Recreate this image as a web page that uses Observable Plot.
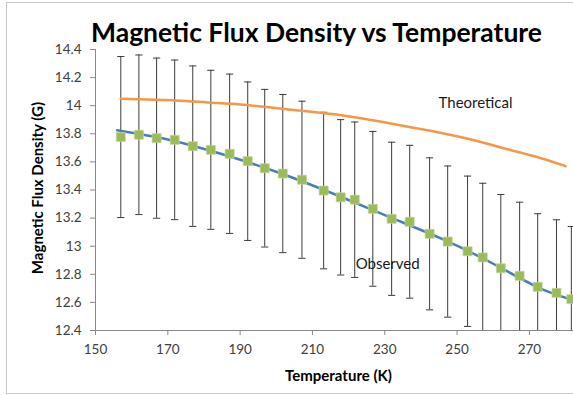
<!DOCTYPE html>
<html><head><meta charset="utf-8">
<script src="https://cdn.jsdelivr.net/npm/d3@7"></script>
<script src="https://cdn.jsdelivr.net/npm/@observablehq/plot@0.6"></script>
<style>
body{margin:0;background:#fff;}
#wrap{position:relative;width:573px;height:395px;overflow:hidden;background:#fff;}
#border{position:absolute;left:6px;top:2px;width:620px;height:390px;border:1px solid #c8c8c8;pointer-events:none;}
</style></head><body><div id="wrap"><div id="border"></div></div>
<script>
// ---- data ----
const temperatures = [157.0, 162.0, 166.9, 171.9, 176.9, 181.9, 187.1, 192.1, 196.8, 201.8, 207.1, 213.1, 217.8, 221.7, 226.7, 231.9, 236.9, 242.4, 247.4, 252.9, 257.1, 262.1, 267.3, 272.3, 277.5, 281.6];
const observed = [13.777, 13.793, 13.769, 13.757, 13.712, 13.686, 13.658, 13.605, 13.555, 13.517, 13.473, 13.396, 13.348, 13.331, 13.266, 13.195, 13.174, 13.088, 13.033, 12.964, 12.920, 12.843, 12.789, 12.711, 12.668, 12.623];
const errors = [0.573, 0.568, 0.570, 0.568, 0.571, 0.566, 0.567, 0.564, 0.561, 0.563, 0.559, 0.557, 0.553, 0.553, 0.551, 0.545, 0.544, 0.541, 0.538, 0.535, 0.528, 0.525, 0.524, 0.520, 0.520, 0.517];
const fitTemps = [156, 170, 183, 200, 218, 232, 246, 260, 273, 283];
const fitValues = [13.825, 13.76, 13.67, 13.53, 13.35, 13.20, 13.05, 12.875, 12.70, 12.61];
const theoTemps = [157, 172, 181, 190, 199, 209, 218, 227, 236, 246, 255, 264, 273, 280];
const theoValues = [14.049, 14.037, 14.023, 14.009, 13.985, 13.959, 13.932, 13.895, 13.852, 13.804, 13.752, 13.690, 13.628, 13.570];
const xTicks = [150, 170, 190, 210, 230, 250, 270];
const yTicks = [12.4, 12.6, 12.8, 13, 13.2, 13.4, 13.6, 13.8, 14, 14.2, 14.4];
const title = "Magnetic Flux Density vs Temperature";
const xLabel = "Temperature (K)";
const yLabel = "Magnetic Flux Density (G)";

// ---- tables ----
const obsRows = temperatures.map((t, i) => ({T: t, v: observed[i], e: errors[i]}));
const fitRows = fitTemps.map((t, i) => ({T: t, v: fitValues[i]}));
const theoRows = theoTemps.map((t, i) => ({T: t, v: theoValues[i]}));

const cap = {draw(ctx, size) { const r = Math.sqrt(size / Math.PI); ctx.moveTo(-r, 0); ctx.lineTo(r, 0); }};
const axisColor = "#898989";
const textColor = "#404040";
const font = "Lato, 'Open Sans', sans-serif";

const chart = Plot.plot({
  width: 573, height: 395,
  marginLeft: 95, marginRight: 0, marginTop: 49, marginBottom: 65,
  style: {background: "transparent", fontFamily: font, fontSize: "13.5px", color: textColor, overflow: "hidden"},
  x: {domain: [150, 282.2], axis: null},
  y: {domain: [12.4, 14.4], axis: null},
  marks: [
    Plot.ruleX(obsRows, {x: "T", y1: d => d.v - d.e, y2: d => d.v + d.e, stroke: "#3c3c3c", strokeWidth: 1, clip: true}),
    Plot.dot(obsRows, {x: "T", y: d => d.v + d.e, symbol: cap, r: 3.6, stroke: "#3c3c3c", strokeWidth: 1, clip: true}),
    Plot.dot(obsRows, {x: "T", y: d => d.v - d.e, symbol: cap, r: 3.6, stroke: "#3c3c3c", strokeWidth: 1, clip: true}),
    Plot.line(theoRows, {x: "T", y: "v", stroke: "#f79646", strokeWidth: 2.5, curve: "natural", clip: true}),
    Plot.line(fitRows, {x: "T", y: "v", stroke: "#4a7ebb", strokeWidth: 2.5, curve: "natural", clip: true}),
    Plot.dot(obsRows, {x: "T", y: "v", symbol: "square", r: 5.1, fill: "#9bbb59", stroke: "#c3d69b", strokeWidth: 0.7}),
    // axes
    Plot.ruleX([150], {stroke: axisColor}),
    Plot.ruleY([12.4], {stroke: axisColor}),
    Plot.axisX(xTicks, {tickSize: 5, tickPadding: 9, stroke: axisColor, fill: textColor, label: null, tickFormat: d => String(d)}),
    Plot.axisY(yTicks, {tickSize: 5, tickPadding: 9, stroke: axisColor, fill: textColor, label: null, tickFormat: d => String(+d.toFixed(1))}),
    // series labels
    Plot.text(["Theoretical"], {x: 255.1, y: 13.987, text: d => d, lineAnchor: "bottom", fontSize: 15, fill: "#1a1a1a"}),
    Plot.text(["Observed"], {x: 230.8, y: 12.841, text: d => d, lineAnchor: "bottom", fontSize: 15, fill: "#1a1a1a"}),
    // titles
    Plot.text([title], {frameAnchor: "top-left", dx: 221, dy: -8, text: d => d, lineAnchor: "bottom", textAnchor: "middle", fontSize: 26.5, fontWeight: "bold", fill: "#000"}),
    Plot.text([xLabel], {frameAnchor: "bottom", dx: 4, dy: 50, text: d => d, lineAnchor: "bottom", textAnchor: "middle", fontSize: 15, fontWeight: "bold", fill: "#000"}),
    Plot.text([yLabel], {frameAnchor: "left", dx: -57, dy: -2, rotate: -90, text: d => d, lineAnchor: "middle", textAnchor: "middle", fontSize: 15, fontWeight: "bold", fill: "#000"})
  ]
});
document.getElementById("wrap").prepend(chart);
</script>
</body></html>
